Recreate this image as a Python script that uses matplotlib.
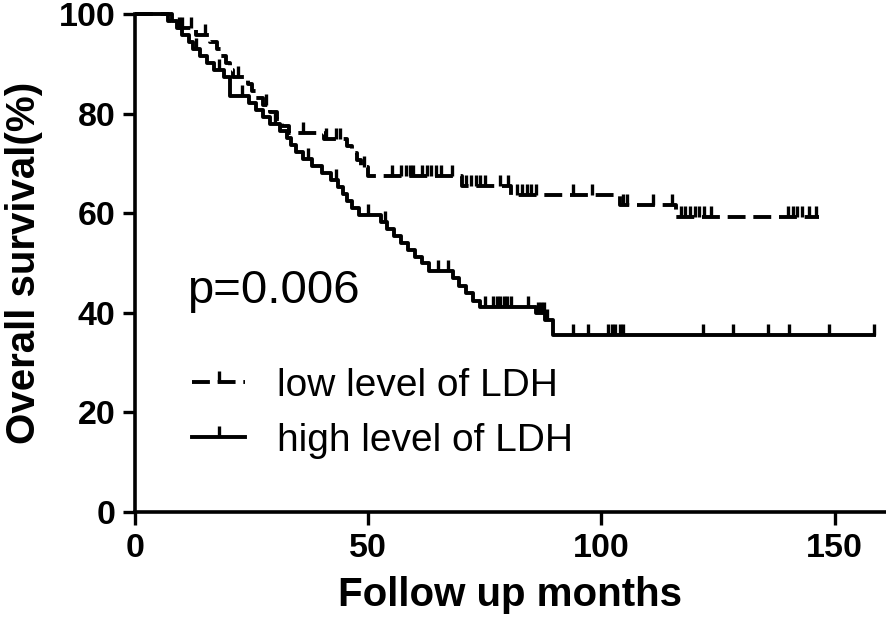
import numpy as np
import matplotlib
matplotlib.use("Agg")
from matplotlib import pyplot as plt
from matplotlib.lines import Line2D

plt.rcParams['font.family'] = ['Liberation Sans', 'DejaVu Sans']

# Kaplan-Meier steps (months, % surviving)
low_t = [0, 7, 9.5, 13, 16, 17.5, 18.5, 19.5, 20.3, 21, 24.2, 25, 26, 27.5,
         29, 30.5, 31.5, 33, 40.5, 45.5, 46.5, 47.5, 48.5, 50, 70, 80.5,
         104, 116]
low_s = [100, 98.6, 97.2, 95.8, 94.4, 93.0, 91.6, 90.2, 88.8, 87.4, 86.0,
         84.6, 83.2, 81.8, 80.4, 79.0, 77.6, 76.2, 74.8, 73.4, 72.0, 70.6,
         69.2, 67.4, 65.4, 63.7, 61.6, 59.3]
low_end = 146.6
low_cens = [10, 12, 15, 22, 28, 36, 41, 43, 44, 49, 55, 57, 58, 59, 59.5,
            61.5, 62.5, 63.5, 64.5, 65.5, 68, 71, 72, 73, 74, 75, 78.3, 80,
            82, 83, 84, 85, 86, 94, 98, 104.7, 105.5, 111, 115.2, 117, 118,
            119, 120, 121, 122, 123.5, 140, 141, 142, 143, 144.5, 146]

high_t = [0, 8, 9, 10, 11.5, 12.5, 14, 15.5, 17, 19, 20.4, 24.5, 26, 27.5,
          29, 31, 32.5, 33.5, 34.5, 36, 38, 40, 42, 43.5, 44.5, 45.5, 46.5,
          48, 52.7, 54, 55.5, 57, 58.5, 60, 61.5, 63, 68.2, 69.5, 71, 72.5,
          74, 86, 88, 89.7]
high_s = [100, 98.6, 97.2, 95.8, 94.4, 93.0, 91.6, 90.2, 88.8, 87.3, 83.5,
          82.1, 80.7, 79.3, 77.9, 76.5, 75.1, 73.7, 72.3, 70.9, 69.5, 68.1,
          66.7, 65.3, 63.9, 62.5, 61.1, 59.7, 58.3, 56.9, 55.5, 54.1, 52.7,
          51.3, 49.9, 48.4, 46.9, 45.4, 43.9, 42.4, 41.2, 39.9, 38.5, 35.6]
high_end = 158.8
high_cens = [9.5, 13, 18, 23, 30, 37, 43, 50, 53.5, 65, 67.2, 75.1, 76.8,
             77.5, 78.3, 79, 79.7, 80.5, 84.3, 86.3, 87, 87.7, 88.4, 94, 97.2,
             101.3, 102.2, 103, 104, 104.7, 121.7, 128.3, 135.6, 140.1, 148.7,
             158.4]

labels = ["low level of LDH", "high level of LDH"]
p_text = "p=0.006"

fig = plt.figure(figsize=(8.86, 6.28), dpi=100)
ax = fig.add_axes([135 / 886, 116 / 628, 751 / 886, 498 / 628])

lw = 2.8
dash = (0, (4.6, 2.0))


def km(ax, t, s, end, cens, ls):
    t = np.append(t, end)
    s = np.append(s, s[-1])
    ax.step(t, s, where='post', color='black', lw=lw, linestyle=ls,
            clip_on=False, solid_capstyle='butt')
    idx = np.searchsorted(t, cens, side='right') - 1
    ax.plot(cens, s[idx], linestyle='none', marker=2, markersize=8,
            mew=2.4, color='black', clip_on=False)


km(ax, low_t, low_s, low_end, low_cens, dash)
km(ax, high_t, high_s, high_end, high_cens, '-')

ax.set_xlim(0, 161)
ax.set_ylim(0, 100)
ax.set_xticks([0, 50, 100, 150])
ax.set_yticks([0, 20, 40, 60, 80, 100])
for side in ['top', 'right']:
    ax.spines[side].set_visible(False)
for side in ['left', 'bottom']:
    ax.spines[side].set_linewidth(2.6)
ax.tick_params(width=2.4, length=9, direction='out', labelsize=24.5)
ax.tick_params(axis='y', pad=5)
ax.tick_params(axis='x', pad=6)
for lab in ax.get_xticklabels() + ax.get_yticklabels():
    lab.set_fontweight('bold')

ax.set_xlabel("Follow up months", fontsize=29, fontweight='bold', labelpad=9)
ax.set_ylabel("Overall survival(%)", fontsize=29, fontweight='bold')
ax.yaxis.set_label_coords(-0.122, 0.5)

ax.text(11.1, 42, p_text, fontsize=34, ha='left', va='baseline')

handles = [
    Line2D([], [], color='black', lw=lw, linestyle=dash, marker=2,
           markersize=8, mew=2.4),
    Line2D([], [], color='black', lw=lw, linestyle='-', marker=2,
           markersize=8, mew=2.4),
]
ax.legend(handles, labels, loc='upper left', bbox_to_anchor=(0.076, 0.29),
          frameon=False, fontsize=28, handlelength=1.36, handletextpad=0.82,
          labelspacing=0.5, borderpad=0, borderaxespad=0, numpoints=1)

fig.savefig("out.png", dpi=100)
